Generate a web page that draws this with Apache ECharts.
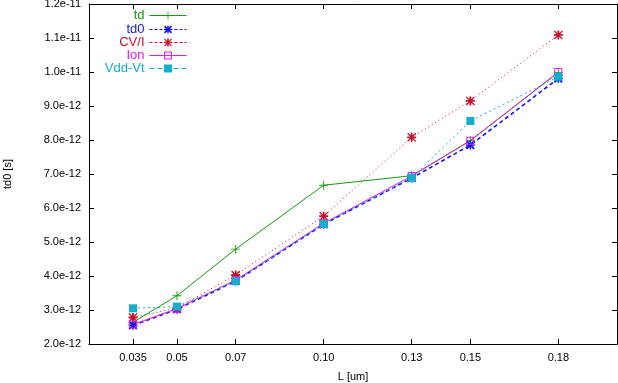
<!DOCTYPE html>
<html>
<head>
<meta charset="utf-8">
<script src="https://cdn.jsdelivr.net/npm/echarts@6/dist/echarts.min.js"></script>
<style>html,body{margin:0;padding:0;background:#fff}#c{width:618px;height:383px}</style>
</head>
<body>
<div id="c"></div>
<script>
// L [um] positions and tick labels
const xValues = [0.035, 0.05, 0.07, 0.10, 0.13, 0.15, 0.18];
const xTickLabels = ['0.035', '0.05', '0.07', '0.10', '0.13', '0.15', '0.18'];
// series values, td0 [s]
const td    = [2.64e-12, 3.42e-12, 4.79e-12, 6.67e-12, 6.95e-12, 7.98e-12, 9.99e-12];
const td0   = [2.55e-12, 3.02e-12, 3.85e-12, 5.52e-12, 6.88e-12, 7.85e-12, 9.81e-12];
const cvi   = [2.78e-12, 3.06e-12, 4.03e-12, 5.76e-12, 8.08e-12, 9.15e-12, 11.09e-12];
const ion   = [2.57e-12, 3.04e-12, 3.88e-12, 5.55e-12, 6.94e-12, 7.98e-12, 10.0e-12];
const vddvt = [3.05e-12, 3.10e-12, 3.85e-12, 5.53e-12, 6.89e-12, 8.56e-12, 9.86e-12];
const seriesNames = ['td', 'td0', 'CV/I', 'Ion', 'Vdd-Vt'];
const seriesColors = ['#139a13', '#1515e6', '#c8102e', '#e619e6', '#14aecb'];

const FONT = 'Liberation Sans, Arial, sans-serif';
const plus = 'path://M4.5,0h1v4.5h4.5v1h-4.5v4.5h-1v-4.5h-4.5v-1h4.5z';
const star = 'path://M4,0h2v10h-2z M0,4h10v2h-10z M0,1L1,0L10,9L9,10Z M9,0L10,1L1,10L0,9Z';
const cross = 'path://M0,1.5L1.5,0L10,8.5L8.5,10Z M8.5,0L10,1.5L1.5,10L0,8.5Z M4.2,0h1.6v10h-1.6z M0,4.2h10v1.6h-10z';
const openSq = 'path://M0,0h10v10h-10z M1.3,1.3v7.4h7.4v-7.4z';

const pairs = arr => xValues.map((x, i) => [x, arr[i]]);
const dataSets = [td, td0, cvi, ion, vddvt];
const lineTypes = ['solid', [4, 3], [1, 3], 'solid', [2, 3]];
const lineWidths = [1, 1.6, 1, 1, 1];
const symbols = [plus, cross, star, openSq, 'rect'];
const symbolSizes = [9, 9, 9, 8, 8];
const legendLineTypes = ['solid', [3, 2], [3, 2], 'solid', [5, 3]];

const series = dataSets.map((d, i) => ({
  name: seriesNames[i],
  type: 'line',
  data: pairs(d),
  symbol: symbols[i],
  symbolSize: symbolSizes[i],
  showAllSymbol: true,
  animation: false,
  color: seriesColors[i],
  lineStyle: { color: seriesColors[i], width: lineWidths[i], type: lineTypes[i] },
  itemStyle: { color: seriesColors[i], borderWidth: 0 },
  emphasis: { disabled: true }
}));

const legendRowTop = [15, 29, 42, 55, 68];
const legends = seriesNames.map((n, i) => ({
  data: [n],
  orient: 'vertical',
  align: 'right',
  right: 431,
  top: legendRowTop[i] - 6,
  padding: 0,
  itemWidth: 37,
  itemHeight: 10,
  selectedMode: false,
  textStyle: { color: seriesColors[i], fontSize: 13, fontFamily: FONT },
  lineStyle: { type: legendLineTypes[i], width: 1 }
}));

const baseAxis = {
  axisLine: { show: true, lineStyle: { color: '#000', width: 1 } },
  axisTick: { show: true, inside: true, length: 5, lineStyle: { color: '#000' } },
  splitLine: { show: false },
  axisLabel: { color: '#000', fontSize: 11, fontFamily: FONT }
};

const option = {
  backgroundColor: '#fff',
  animation: false,
  grid: { left: 89, right: 1, top: 4, bottom: 39, containLabel: false, outerBoundsMode: 'none' },
  legend: legends,
  xAxis: [
    Object.assign({}, baseAxis, {
      type: 'value', position: 'bottom', min: 0.02, max: 0.2,
      axisTick: Object.assign({}, baseAxis.axisTick, { customValues: xValues }),
      axisLabel: Object.assign({}, baseAxis.axisLabel, {
        customValues: xValues, margin: 8,
        formatter: v => { const k = xValues.findIndex(x => Math.abs(x - v) < 1e-9); return k >= 0 ? xTickLabels[k] : ''; }
      }),
      name: 'L [um]', nameLocation: 'middle', nameGap: 27,
      nameTextStyle: { color: '#000', fontSize: 11, fontFamily: FONT }
    }),
    Object.assign({}, baseAxis, {
      type: 'value', position: 'top', min: 0.02, max: 0.2,
      axisTick: Object.assign({}, baseAxis.axisTick, { customValues: xValues }),
      axisLabel: { show: false }
    })
  ],
  yAxis: [
    Object.assign({}, baseAxis, {
      type: 'value', position: 'left', min: 2e-12, max: 1.2e-11, interval: 1e-12,
      axisLabel: Object.assign({}, baseAxis.axisLabel, { margin: 8, formatter: v => v.toExponential(1) }),
      name: 'td0 [s]', nameLocation: 'middle', nameGap: 76, nameRotate: 90,
      nameTextStyle: { color: '#000', fontSize: 11, fontFamily: FONT }
    }),
    Object.assign({}, baseAxis, {
      type: 'value', position: 'right', min: 2e-12, max: 1.2e-11, interval: 1e-12,
      axisLabel: { show: false }
    })
  ],
  series: series
};

const chart = echarts.init(document.getElementById('c'), null, { renderer: 'canvas' });
chart.setOption(option);
</script>
</body>
</html>
